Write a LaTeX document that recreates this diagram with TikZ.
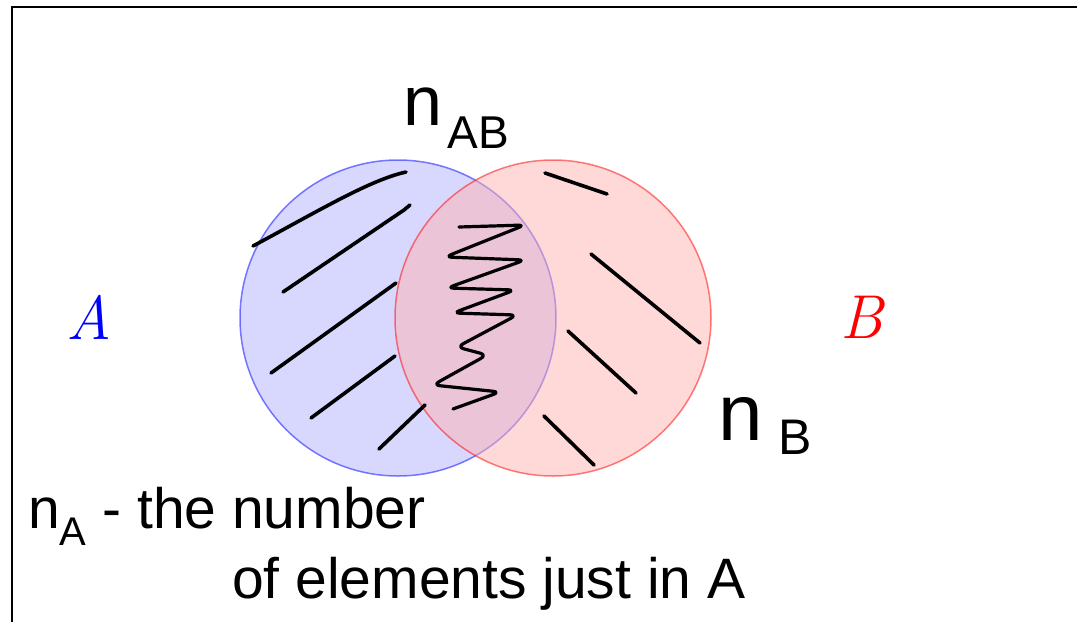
\documentclass[tikz,border=0pt]{standalone}
\usepackage{fontspec}
\newfontfamily\handfont{Liberation Sans}
\tikzset{
  hatch/.style={black, line width=3.6pt, line cap=round, line join=round},
  hand/.style={inner sep=0pt, anchor=base west, font=\handfont},
  setlabel/.style={inner sep=0pt, font=\fontsize{62}{62}\selectfont\itshape},
}
\begin{document}
\begin{tikzpicture}[x=1pt,y=-1pt]
\useasboundingbox (0,0) rectangle (1077,622);
\fill[white] (0,0) rectangle (1077,622);
% frame
\draw[line width=2pt] (12,622) -- (12,7) -- (1077,7);
% circles
\draw[blue, fill=blue!30, opacity=0.5, line width=1.5pt] (398,318) circle (158pt);
\draw[red, fill=red!30, opacity=0.5, line width=1.5pt] (553,318) circle (158pt);
% set labels
\node[setlabel, blue] (labA) at (89,317) {A};
\node[setlabel, red] (labB) at (862,317) {B};
% hatching in A only
\draw[hatch] (253,246) .. controls (320,210) and (370,180) .. (406,172);
\draw[hatch] (283,292) -- (404,210) -- (410,205);
\draw[hatch] (271,373) -- (396,283);
\draw[hatch] (311,418) -- (395,356);
\draw[hatch] (379,449) -- (425,405);
% zigzag in intersection
\draw[hatch, line width=3.2pt, rounded corners=7pt]
  (459,227) -- (525,225) -- (445,257) -- (525,260) -- (447,288) -- (515,290)
  -- (453,313) -- (517,315) -- (457,347) -- (487,355) -- (433,385) -- (500,392) -- (453,409);
% hatching in B only
\draw[hatch] (545,173) -- (607,194);
\draw[hatch] (591,254) -- (700,343);
\draw[hatch] (568,331) -- (636,393);
\draw[hatch] (544,416) -- (594,465);
% handwritten labels
\node[hand] (nAB) at (403,125) {\fontsize{70}{70}\selectfont n\hspace{0.08em}\raisebox{-0.33em}{\fontsize{46}{46}\selectfont AB}};
\node[hand] (nB) at (718,440) {\fontsize{80}{80}\selectfont n\hspace{0.2em}\raisebox{-0.18em}{\fontsize{50}{50}\selectfont B}};
\node[hand] (line1) at (28,528) {\fontsize{57}{57}\selectfont n\raisebox{-0.3em}{\fontsize{40}{40}\selectfont A} - the number};
\node[hand] (line2) at (232,598) {\fontsize{57}{57}\selectfont of elements just in A};
\end{tikzpicture}
\end{document}
